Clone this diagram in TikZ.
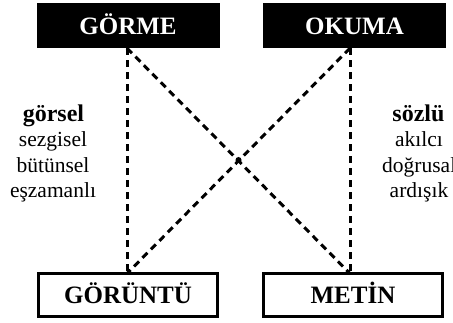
\documentclass[tikz,border=0pt]{standalone}
\usepackage{fontspec}
\setmainfont{Liberation Serif}
\begin{document}
\begin{tikzpicture}[x=1pt,y=-1pt,
  topbox/.style={draw=black,fill=black,text=white,minimum width=182pt,minimum height=44pt,inner sep=0pt,text height=20pt,text depth=0pt,font=\fontsize{25}{28}\selectfont\bfseries},
  botbox/.style={draw=black,fill=white,line width=3pt,minimum width=179pt,minimum height=43pt,inner sep=0pt,text height=18pt,text depth=0pt,font=\fontsize{25}{28}\selectfont\bfseries},
  link/.style={draw=black,line width=3pt,dash pattern=on 7pt off 5pt},
  side/.style={align=center,font=\fontsize{21.5}{25}\selectfont,inner sep=0pt},
  sidehead/.style={side,font=\fontsize{24}{27}\selectfont\bfseries}]
\useasboundingbox (0,0) rectangle (453,323);
\node[topbox] (gorme) at (128,25) {GÖRME};
\node[topbox] (okuma) at (354.5,25) {OKUMA};
\node[botbox] (goruntu) at (128,295) {GÖRÜNTÜ};
\node[botbox] (metin) at (353,295) {METİN};
\coordinate (ga) at ([xshift=-1pt,yshift=-1pt]gorme.south);
\coordinate (oa) at ([xshift=-4.5pt,yshift=-1pt]okuma.south);
\coordinate (gb) at ([xshift=-1pt,yshift=-1.5pt]goruntu.north);
\coordinate (mb) at ([xshift=-3pt,yshift=-1.5pt]metin.north);
\path[link] (ga) -- (gb);
\path[link] (oa) -- (mb);
\path[link] (ga) -- (mb);
\path[link] (oa) -- (gb);
\node[fill=black,circle,inner sep=0pt,minimum size=6pt] (x) at (238.5,160) {};
\node[sidehead,anchor=base] (l1) at (53.5,122) {görsel};
\node[side,anchor=base] (l2) at (53,147) {sezgisel};
\node[side,anchor=base] (l3) at (53,173) {bütünsel};
\node[side,anchor=base] (l4) at (53,198) {eşzamanlı};
\node[sidehead,anchor=base] (r1) at (418.5,122) {sözlü};
\node[side,anchor=base] (r2) at (419,147) {akılcı};
\node[side,anchor=base west] (r3) at (382,173) {doğrusal};
\node[side,anchor=base] (r4) at (419,198) {ardışık};
\end{tikzpicture}
\end{document}
